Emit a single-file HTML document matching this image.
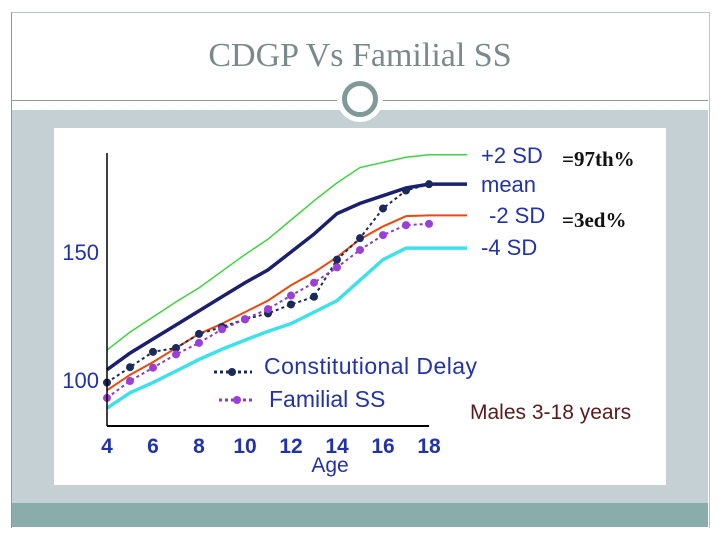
<!DOCTYPE html>
<html><head><meta charset="utf-8"><style>
body{margin:0;width:720px;height:540px;background:#fff;position:relative;overflow:hidden;font-family:"Liberation Sans",sans-serif}
.abs{position:absolute}
</style></head><body>
<div class="abs" style="left:11px;top:12px;width:697px;height:515px;border-left:1px solid #8a9a9c;border-top:1px solid #b8c4c6;border-right:1px solid #b8c4c6"></div>
<div class="abs" style="left:0;top:36px;width:720px;text-align:center;font-family:'Liberation Serif',serif;font-size:34px;line-height:40px;color:#7a8a8c">CDGP Vs Familial SS</div>
<div class="abs" style="left:12px;top:100px;width:696px;height:1px;background:#8a9a9c"></div>
<div class="abs" style="left:12px;top:110px;width:696px;height:393px;background:#c5d0d5"></div>
<div class="abs" style="left:12px;top:503px;width:696px;height:24px;background:#8aacaa"></div>
<div class="abs" style="left:337px;top:76px;width:46px;height:46px;border-radius:50%;background:#fff"></div>
<div class="abs" style="left:342px;top:81px;width:26px;height:26px;border-radius:50%;border:5px solid #7f9a98;background:#fff"></div>
<svg class="abs" style="left:0;top:0" width="720" height="540">
<rect x="54" y="128" width="612" height="357" fill="#fff"/>
<g id="g"></g>
</svg>
<script>
const ages=[4,5,6,7,8,9,10,11,12,13,14,15,16,17,18];
const plus2=[111.7,118.7,124.6,130.5,136,142.5,149,155,162.5,170,177,183,185,187,188];
const mean=[104,110.5,116,121.5,127,132.5,138,143,150,157,165,169,172,175,176.5];
const minus2=[96,102,107,112.5,118,122,126.5,131,137,142,148,155,160,164,164.3];
const minus4=[89,95,99,103.5,108,112,115.6,119,122,126.5,131,139,147,151.5,151.5];
const cd=[99,105,111,112.5,118,120.7,123.7,126,129.5,132.5,147,155.4,167,174,176.5];
const fss=[93,99.6,104.8,110,114.5,119.8,123.8,127.7,133,138,144,150.8,156.6,160.5,161];
const xTicks=[4,6,8,10,12,14,16,18];
const yTicks=[100,150];
const X=a=>107+(a-4)*23;
const Y=v=>380-(v-100)*2.56;
const ns="http://www.w3.org/2000/svg",g=document.getElementById('g');
function el(t,at,txt){const e=document.createElementNS(ns,t);for(const k in at)e.setAttribute(k,at[k]);if(txt)e.textContent=txt;g.appendChild(e);return e;}
function line(vals,color,w,name,dash,ext){
 let d=vals.map((v,i)=>(i?'L':'M')+X(ages[i])+' '+Y(v)).join(' ');
 if(ext)d+=' L'+ext+' '+Y(vals[vals.length-1]);
 const p=el('path',{d:d,fill:'none',stroke:color,'stroke-width':w,'stroke-dasharray':dash||'none'});
 
 
}
line(plus2,'#3fd23f',1.5,'plus2sd-line',null,467);
line(minus4,'#3ee0ec',3.5,'minus4sd-line',null,467);
line(minus2,'#e84a10',2,'minus2sd-line',null,467);
line(mean,'#1a1f6e',3.5,'mean-line',null,467);
line(cd,'#1a2a5a',2,'constitutional-delay-line','3 3');
line(fss,'#8a3ad0',2,'familial-ss-line','3 3');
cd.forEach((v,i)=>{const c=el('circle',{cx:X(ages[i]),cy:Y(v),r:4,fill:'#1a2a5a'});

});
fss.forEach((v,i)=>{const c=el('circle',{cx:X(ages[i]),cy:Y(v),r:4,fill:'#9a40d8'});

});
const ya=el('line',{x1:107,y1:153,x2:107,y2:426,stroke:'#000','stroke-width':1.5});

const xa=el('line',{x1:107,y1:426,x2:429,y2:426,stroke:'#000','stroke-width':2});

xTicks.forEach(t=>{const e=el('text',{x:X(t),y:453,'text-anchor':'middle','font-size':21,'font-weight':'bold',fill:'#2233aa'},String(t));
});
yTicks.forEach(t=>{const e=el('text',{x:99,y:Y(t)+8,'text-anchor':'end','font-size':22,fill:'#2233aa'},String(t));
});
const xt=el('text',{x:330,y:472,'text-anchor':'middle','font-size':21,fill:'#2233aa'},'Age');

[['+2 SD',481,163,'label-plus2sd'],['mean',481,192,'label-mean'],['-2 SD',489,223,'label-minus2sd'],['-4 SD',481,255,'label-minus4sd']].forEach(a=>{
 const e=el('text',{x:a[1],y:a[2],'font-size':22,fill:'#2233aa'},a[0]);
 });
[['=97th%',562,166,'note-97th'],['=3ed%',562,227,'note-3rd']].forEach(a=>{
 const e=el('text',{x:a[1],y:a[2],'font-size':21,'font-weight':'bold','font-family':'Liberation Serif,serif',fill:'#111'},a[0]);
 });
const l1=el('line',{x1:214,y1:372,x2:252,y2:372,stroke:'#1a2a5a','stroke-width':3,'stroke-dasharray':'3 3'});

const c1=el('circle',{cx:232,cy:372,r:4,fill:'#1a2a5a'});
const t1=el('text',{x:264,y:374,'font-size':23,fill:'#2233aa',textLength:213},'Constitutional Delay');

const l2=el('line',{x1:219,y1:400,x2:255,y2:400,stroke:'#8a3ad0','stroke-width':3,'stroke-dasharray':'3 3'});

const c2=el('circle',{cx:237,cy:400,r:4,fill:'#9a40d8'});
const t2=el('text',{x:269,y:407,'font-size':23,fill:'#2233aa'},'Familial SS');

const m=el('text',{x:470,y:419,'font-size':21,fill:'#5a1a1a'},'Males 3-18 years');

</script>
</body></html>
